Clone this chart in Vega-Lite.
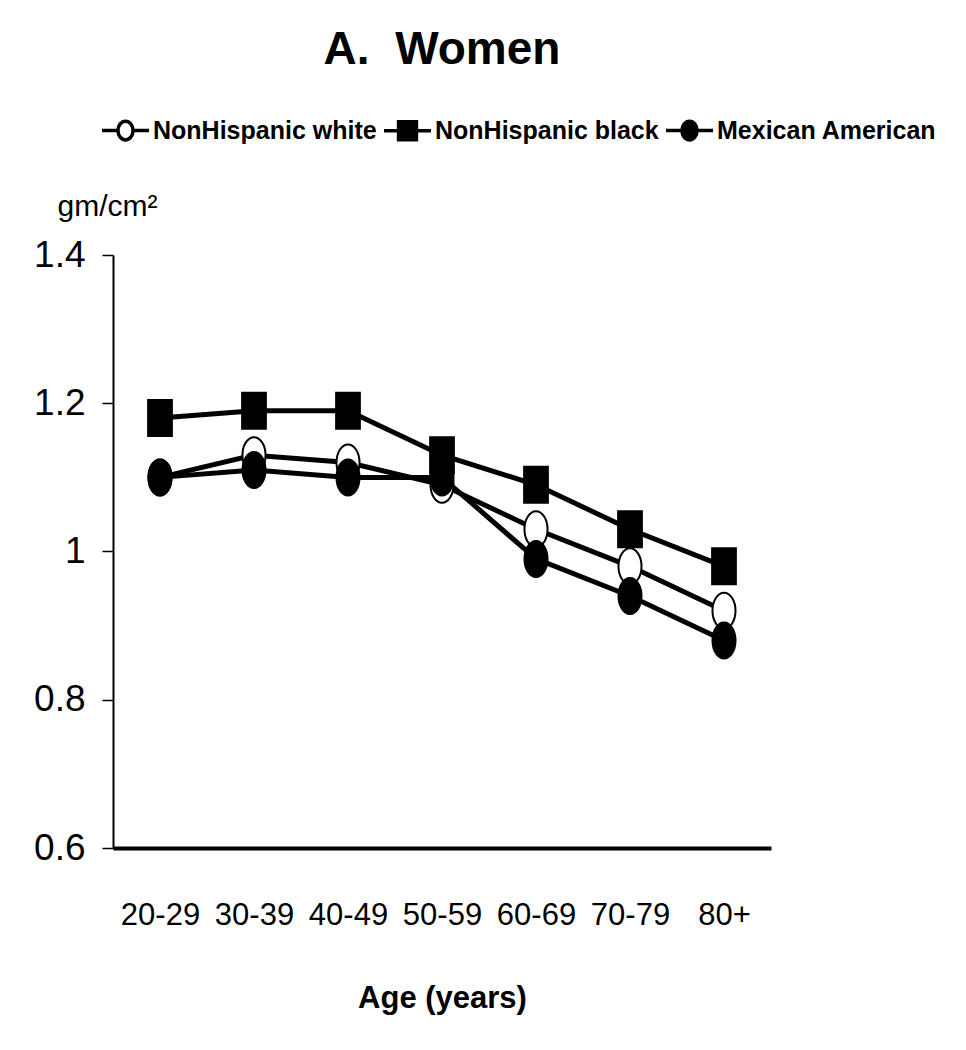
{
  "$schema": "https://vega.github.io/schema/vega-lite/v6.json",
  "autosize": {"type": "none"},
  "width": 658,
  "height": 593,
  "padding": {"left": 113, "top": 255, "right": 195, "bottom": 202},
  "background": "white",
  "title": {
    "text": "A.\u00a0 Women",
    "font": "Liberation Sans",
    "fontWeight": "bold",
    "fontSize": 46,
    "color": "black",
    "anchor": "middle",
    "frame": "group",
    "baseline": "alphabetic",
    "offset": -5
  },
  "data": {
    "values": [
      {"age": "20-29", "group": "NonHispanic white", "bmd": 1.10},
      {"age": "30-39", "group": "NonHispanic white", "bmd": 1.13},
      {"age": "40-49", "group": "NonHispanic white", "bmd": 1.12},
      {"age": "50-59", "group": "NonHispanic white", "bmd": 1.09},
      {"age": "60-69", "group": "NonHispanic white", "bmd": 1.03},
      {"age": "70-79", "group": "NonHispanic white", "bmd": 0.98},
      {"age": "80+", "group": "NonHispanic white", "bmd": 0.92},
      {"age": "20-29", "group": "NonHispanic black", "bmd": 1.18},
      {"age": "30-39", "group": "NonHispanic black", "bmd": 1.19},
      {"age": "40-49", "group": "NonHispanic black", "bmd": 1.19},
      {"age": "50-59", "group": "NonHispanic black", "bmd": 1.13},
      {"age": "60-69", "group": "NonHispanic black", "bmd": 1.09},
      {"age": "70-79", "group": "NonHispanic black", "bmd": 1.03},
      {"age": "80+", "group": "NonHispanic black", "bmd": 0.98},
      {"age": "20-29", "group": "Mexican American", "bmd": 1.10},
      {"age": "30-39", "group": "Mexican American", "bmd": 1.11},
      {"age": "40-49", "group": "Mexican American", "bmd": 1.10},
      {"age": "50-59", "group": "Mexican American", "bmd": 1.10},
      {"age": "60-69", "group": "Mexican American", "bmd": 0.99},
      {"age": "70-79", "group": "Mexican American", "bmd": 0.94},
      {"age": "80+", "group": "Mexican American", "bmd": 0.88}
    ]
  },
  "encoding": {
    "x": {
      "field": "age",
      "type": "ordinal",
      "sort": ["20-29", "30-39", "40-49", "50-59", "60-69", "70-79", "80+"],
      "scale": {"type": "point", "padding": 0.5},
      "axis": {
        "title": "Age (years)",
        "labelAngle": 0,
        "labelFont": "Liberation Sans",
        "labelFontSize": 31,
        "labelColor": "black",
        "labelPadding": 52,
        "ticks": false,
        "domainColor": "black",
        "domainWidth": 4,
        "grid": false,
        "titleFont": "Liberation Sans",
        "titleFontWeight": "bold",
        "titleFontSize": 31,
        "titleColor": "black",
        "titlePadding": 53
      }
    },
    "y": {
      "field": "bmd",
      "type": "quantitative",
      "scale": {"domain": [0.6, 1.4], "zero": false, "nice": false},
      "axis": {
        "title": "gm/cm\u00b2",
        "titleAngle": 0,
        "titleFont": "Liberation Sans",
        "titleFontWeight": "normal",
        "titleFontSize": 30,
        "titleColor": "black",
        "titleAlign": "center",
        "titleBaseline": "alphabetic",
        "titleX": -6,
        "titleY": -40,
        "values": [0.6, 0.8, 1, 1.2, 1.4],
        "format": "~g",
        "labelFont": "Liberation Sans",
        "labelFontSize": 37,
        "labelColor": "black",
        "labelPadding": 17,
        "tickSize": 11,
        "tickWidth": 1.5,
        "tickColor": "black",
        "domainColor": "black",
        "domainWidth": 2,
        "grid": false
      }
    }
  },
  "layer": [
    {
      "mark": {"type": "line", "color": "black", "strokeWidth": 5},
      "encoding": {"detail": {"field": "group"}}
    },
    {
      "mark": {"type": "point", "filled": true, "stroke": "black", "strokeWidth": 2, "opacity": 1, "size": 1296},
      "encoding": {
        "shape": {
          "field": "group",
          "type": "nominal",
          "scale": {
            "domain": ["NonHispanic white", "NonHispanic black", "Mexican American"],
            "range": [
              "M-0.64,0A0.64,1 0 1,0 0.64,0A0.64,1 0 1,0 -0.64,0Z",
              "M-0.66,-1H0.66V1H-0.66Z",
              "M-0.64,0A0.64,1 0 1,0 0.64,0A0.64,1 0 1,0 -0.64,0Z"
            ]
          },
          "legend": null
        },
        "fill": {
          "field": "group",
          "type": "nominal",
          "scale": {
            "domain": ["NonHispanic white", "NonHispanic black", "Mexican American"],
            "range": ["white", "black", "black"]
          },
          "legend": null
        }
      }
    },
    {
      "mark": {"type": "point", "filled": true, "stroke": "black", "strokeWidth": 3.5, "opacity": 0, "size": 1},
      "encoding": {
        "shape": {
          "field": "group",
          "type": "nominal",
          "scale": {
            "domain": ["NonHispanic white", "NonHispanic black", "Mexican American"],
            "range": [
              "M-1,0H-0.32M-0.32,0A0.32,0.4 0 1,0 0.32,0A0.32,0.4 0 1,0 -0.32,0ZM0.32,0H1",
              "M-1,0H-0.38M-0.38,-0.38H0.38V0.38H-0.38ZM0.38,0H1",
              "M-1,0H-0.32M-0.32,0A0.32,0.4 0 1,0 0.32,0A0.32,0.4 0 1,0 -0.32,0ZM0.32,0H1"
            ]
          },
          "legend": {
            "title": null,
            "orient": "none",
            "legendX": -13,
            "legendY": -150,
            "direction": "horizontal",
            "columns": 3,
            "padding": 0,
            "columnPadding": 0,
            "labelOffset": 2,
            "labelFont": "Liberation Sans",
            "labelFontWeight": "bold",
            "labelFontSize": 25,
            "labelColor": "black",
            "labelLimit": 400,
            "symbolSize": 2209,
            "symbolStrokeWidth": 3.5,
            "symbolOpacity": 1,
            "encode": {
              "symbols": {
                "stroke": {"value": "black"},
                "strokeWidth": {"value": 3.5},
                "strokeOpacity": {"value": 1}
              }
            }
          }
        },
        "fill": {
          "field": "group",
          "type": "nominal",
          "scale": {
            "domain": ["NonHispanic white", "NonHispanic black", "Mexican American"],
            "range": ["white", "black", "black"]
          },
          "legend": {
            "title": null,
            "orient": "none",
            "legendX": -13,
            "legendY": -150,
            "direction": "horizontal",
            "columns": 3,
            "padding": 0,
            "columnPadding": 0,
            "labelOffset": 2,
            "labelFont": "Liberation Sans",
            "labelFontWeight": "bold",
            "labelFontSize": 25,
            "labelColor": "black",
            "labelLimit": 400,
            "symbolSize": 2209,
            "symbolStrokeWidth": 3.5,
            "symbolOpacity": 1,
            "encode": {
              "symbols": {
                "stroke": {"value": "black"},
                "strokeWidth": {"value": 3.5},
                "strokeOpacity": {"value": 1}
              }
            }
          }
        }
      }
    }
  ],
  "resolve": {
    "scale": {"shape": "independent", "fill": "independent"},
    "legend": {"shape": "independent", "fill": "independent"}
  },
  "config": {
    "view": {"stroke": null},
    "font": "Liberation Sans"
  }
}
